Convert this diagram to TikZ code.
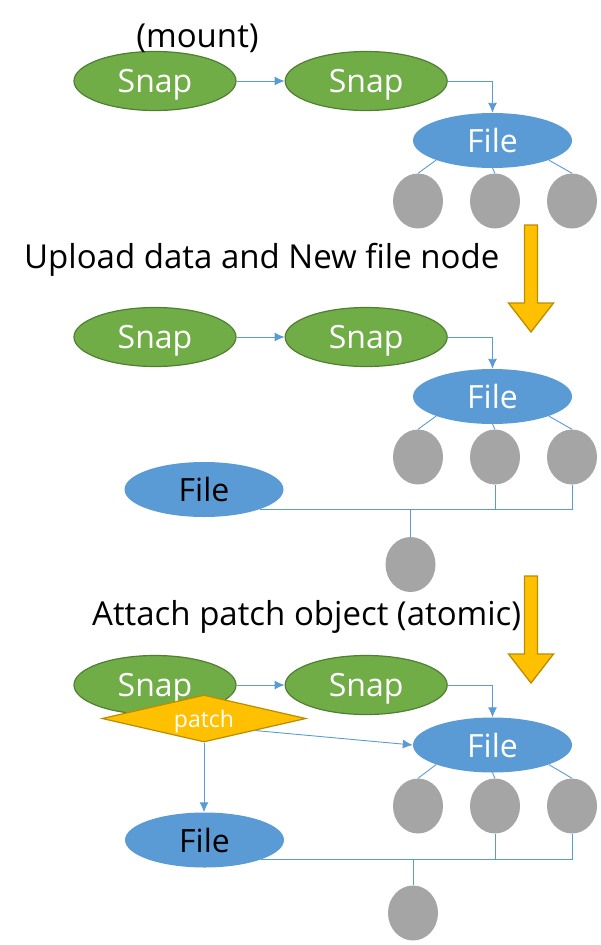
\documentclass[tikz,border=0pt]{standalone}
\usepackage{fontspec}
\setmainfont{Open Sans}
\usepackage{tikz}
\usetikzlibrary{arrows.meta,positioning,shapes.geometric,calc}
\definecolor{snapgreen}{HTML}{70AD47}
\definecolor{snapedge}{HTML}{507E32}
\definecolor{fileblue}{HTML}{5B9BD5}
\definecolor{blobgray}{HTML}{A5A5A5}
\definecolor{gold}{HTML}{FFC000}
\definecolor{goldedge}{HTML}{BC8C00}
\tikzset{
  snapnode/.style={ellipse, draw=snapedge, line width=1.2pt, fill=snapgreen, text=white,
                   minimum width=162pt, minimum height=59pt, inner sep=0pt, text depth=0pt,
                   font=\fontsize{32}{38}\selectfont},
  filenode/.style={ellipse, fill=fileblue, text=white, minimum width=159pt, minimum height=55pt,
                   inner sep=0pt, text depth=0pt, font=\fontsize{32}{38}\selectfont},
  blob/.style={ellipse, fill=blobgray, minimum width=50pt, minimum height=55pt, inner sep=0pt},
  patchnode/.style={diamond, aspect=4.3, draw=goldedge, line width=1.2pt, fill=gold, text=white,
                    minimum width=204pt, minimum height=47pt, inner sep=0pt, text depth=0pt,
                    font=\fontsize{23}{28}\selectfont},
  ar/.style={-{Latex[length=10pt,width=9pt]}, draw=fileblue, line width=0.9pt},
  ln/.style={draw=fileblue, line width=0.9pt},
  bigarr/.style={draw=goldedge, line width=1.3pt, fill=gold},
  hdr/.style={inner sep=0pt, font=\fontsize{33}{40}\selectfont},
}

\begin{document}
\begin{tikzpicture}[x=1pt, y=-1pt]
\useasboundingbox (0,0) rectangle (601,945);
% the three snapshot rows
\foreach \r/\sy/\fy/\cy in {1/81/140.5/201, 2/337/396.5/457, 3/685/745/806} {
  \node[snapnode] (snapa\r) at (155,\sy) {Snap};
  \node[snapnode, right=48pt of snapa\r] (snapb\r) {Snap};
  \node[filenode] (file\r) at (492.5,\fy) {File};
  \node[blob] (bloba\r) at (418,\cy) {};
  \node[blob] (blobb\r) at (495,\cy) {};
  \node[blob] (blobc\r) at (572,\cy) {};
  \draw[ar] (snapa\r) -- (snapb\r);
  \draw[ar] (snapb\r.east) -| (file\r.north);
  \draw[ln] (file\r.south west) -- (bloba\r.north);
  \draw[ln] (file\r.south) -- (blobb\r.north);
  \draw[ln] (file\r.south east) -- (blobc\r.north);
}
\node[hdr, anchor=base] (mount) at (197.5,47) {(mount)};
\node[hdr, anchor=base west] (upload) at (24,268) {Upload data and New file node};
\node[hdr, anchor=base west] (attach) at (92,625) {Attach patch object (atomic)};
% step arrows
\foreach \t in {225,576}
  \draw[bigarr] (524.5,\t) -- (537.5,\t) -- (537.5,\t+78) -- (553.5,\t+78) -- (531,\t+107)
    -- (508.5,\t+78) -- (524.5,\t+78) -- cycle;
% new file node
\node[filenode, text=black] (newfile2) at (204,489.5) {File};
\node[blob] (newblob2) at (410.5,564.5) {};
\foreach \d in {blobb2.south,blobc2.south,newblob2.north}
  \draw[ln] (newfile2.south east) -| (\d);
% patch object
\node[filenode, text=black] (newfile3) at (204.5,840) {File};
\node[blob] (newblob3) at (413,913) {};
\node[patchnode] (patch) at (204,718.5) {patch};
\foreach \d in {blobb3.south,blobc3.south,newblob3.north}
  \draw[ln] (newfile3.south east) -| (\d);
\draw[ar] (patch.south) -- (patch.south |- newfile3.north);
\draw[ar] ($(patch.east)!0.5!(patch.south)$) -- (file3.west);
\end{tikzpicture}
\end{document}
